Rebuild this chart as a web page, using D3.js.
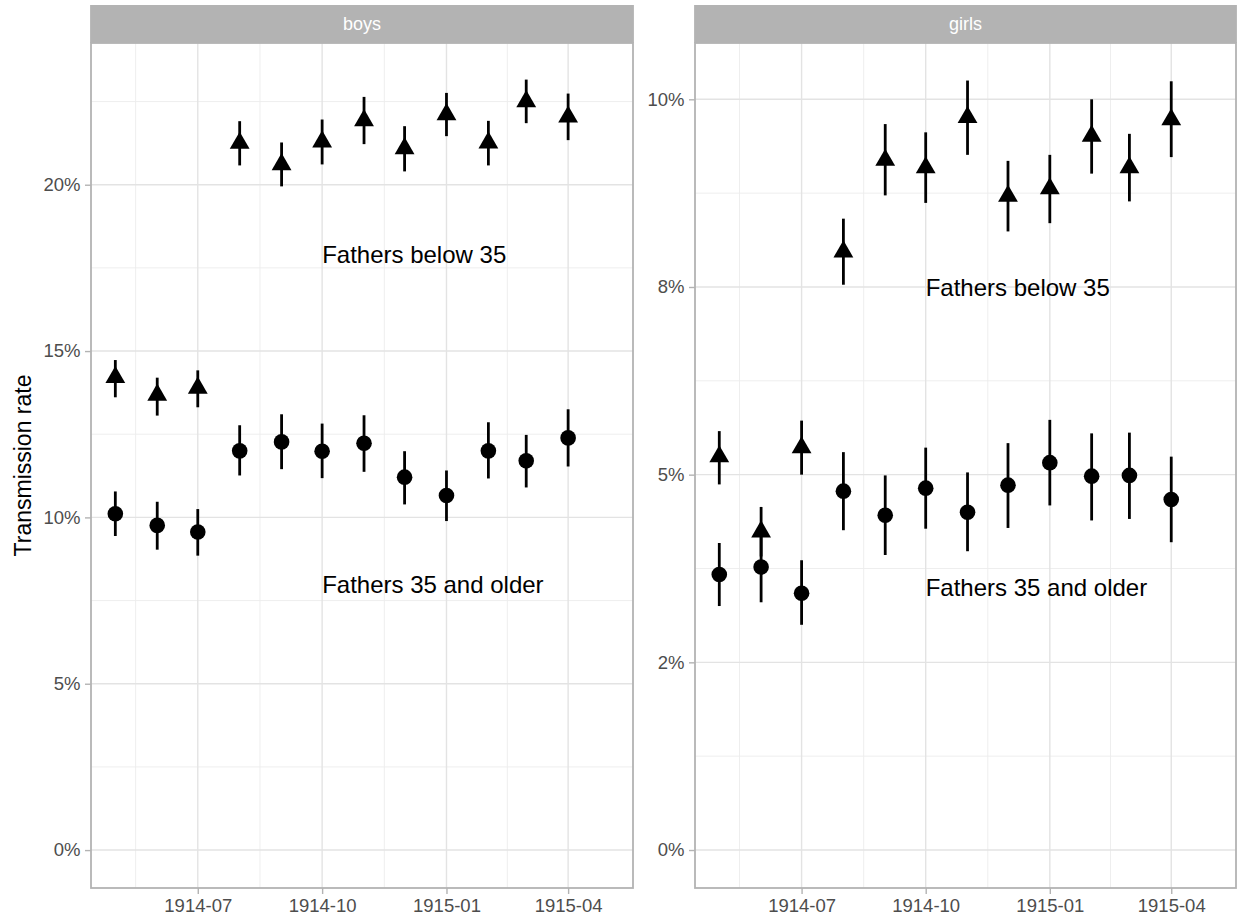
<!DOCTYPE html>
<html>
<head>
<meta charset="utf-8">
<script src="https://cdn.jsdelivr.net/npm/d3@7"></script>
<style>
  html, body { margin: 0; padding: 0; background: #ffffff; }
  svg { display: block; font-family: "Liberation Sans", Arial, sans-serif; }
</style>
</head>
<body>
<svg id="chart" width="1238" height="924"></svg>
<script>
// ---------------- data ----------------
const months = ["1914-05","1914-06","1914-07","1914-08","1914-09","1914-10",
                "1914-11","1914-12","1915-01","1915-02","1915-03","1915-04"];
const facets = ["boys", "girls"];

// boys, fathers below 35 (triangles), percent
const boysYoung   = [14.21, 13.68, 13.89, 21.25, 20.61, 21.29, 21.93, 21.09, 22.11, 21.26, 22.50, 22.04];
const boysYoungLo = [13.61, 13.06, 13.31, 20.58, 19.95, 20.61, 21.22, 20.40, 21.46, 20.58, 21.85, 21.34];
const boysYoungHi = [14.73, 14.20, 14.42, 21.91, 21.27, 21.96, 22.64, 21.76, 22.76, 21.92, 23.16, 22.74];
// boys, fathers 35 and older (circles)
const boysOld   = [10.11, 9.76, 9.56, 12.00, 12.27, 11.99, 12.23, 11.21, 10.66, 12.00, 11.70, 12.39];
const boysOldLo = [9.44, 9.03, 8.85, 11.26, 11.45, 11.18, 11.37, 10.39, 9.89, 11.17, 10.90, 11.53];
const boysOldHi = [10.78, 10.47, 10.25, 12.77, 13.10, 12.82, 13.07, 11.99, 11.41, 12.86, 12.48, 13.25];
// girls, fathers below 35 (triangles)
const girlsYoung   = [5.24, 4.24, 5.36, 7.97, 9.19, 9.09, 9.76, 8.71, 8.81, 9.51, 9.09, 9.73];
const girlsYoungLo = [4.87, 3.91, 5.00, 7.53, 8.72, 8.62, 9.26, 8.24, 8.35, 9.01, 8.64, 9.23];
const girlsYoungHi = [5.58, 4.57, 5.72, 8.41, 9.67, 9.56, 10.25, 9.18, 9.26, 10.00, 9.54, 10.24];
// girls, fathers 35 and older (circles)
const girlsOld   = [3.67, 3.77, 3.42, 4.78, 4.46, 4.82, 4.50, 4.86, 5.16, 4.98, 4.99, 4.67];
const girlsOldLo = [3.25, 3.30, 3.00, 4.26, 3.93, 4.28, 3.98, 4.29, 4.59, 4.39, 4.41, 4.10];
const girlsOldHi = [4.09, 4.24, 3.86, 5.30, 4.99, 5.36, 5.03, 5.42, 5.73, 5.55, 5.56, 5.24];

// axes
const xTickMonths = ["1914-07", "1914-10", "1915-01", "1915-04"];
const xDomainDates = ["1914-04-13", "1915-05-19"];
const boysTicks  = [0, 5, 10, 15, 20];
const boysTickLabels  = ["0%", "5%", "10%", "15%", "20%"];
const girlsTicks = [0, 2.5, 5, 7.5, 10];
const girlsTickLabels = ["0%", "2%", "5%", "8%", "10%"];
const boysYDomain  = [-1.14, 24.26];
const girlsYDomain = [-0.506, 10.75];

// annotations
const annotLabels = ["Fathers below 35", "Fathers 35 and older"];
const annotMonth = "1914-10";
const boysAnnotY  = [17.9, 8.0];
const girlsAnnotY = [7.5, 3.5];

const yTitle = "Transmission rate";

// ---------------- drawing ----------------
const svg = d3.select("#chart");
const parseMonth = d3.utcParse("%Y-%m");
const parseDay = d3.utcParse("%Y-%m-%d");

const panelTop = 43, panelBottom = 888, stripTop = 5;
const layout = {
  boys:  { x0: 91,  x1: 633 },
  girls: { x0: 695, x1: 1236 }
};
const dataByFacet = {
  boys: {
    young: { v: boysYoung, lo: boysYoungLo, hi: boysYoungHi },
    old:   { v: boysOld, lo: boysOldLo, hi: boysOldHi },
    ticks: boysTicks, labels: boysTickLabels, domain: boysYDomain, annot: boysAnnotY
  },
  girls: {
    young: { v: girlsYoung, lo: girlsYoungLo, hi: girlsYoungHi },
    old:   { v: girlsOld, lo: girlsOldLo, hi: girlsOldHi },
    ticks: girlsTicks, labels: girlsTickLabels, domain: girlsYDomain, annot: girlsAnnotY
  }
};

const gridCol = "#e3e3e3", borderCol = "#b3b3b3", tickTextCol = "#4d4d4d";
const triSym = d3.symbol().type(d3.symbolTriangle).size(170);

facets.forEach(f => {
  const L = layout[f], D = dataByFacet[f];
  const x = d3.scaleUtc()
    .domain(xDomainDates.map(parseDay))
    .range([L.x0, L.x1]);
  const y = d3.scaleLinear().domain(D.domain).range([panelBottom, panelTop]);
  const g = svg.append("g");

  // clip
  const clipId = "clip-" + f;
  svg.append("clipPath").attr("id", clipId)
    .append("rect").attr("x", L.x0).attr("y", panelTop)
    .attr("width", L.x1 - L.x0).attr("height", panelBottom - panelTop);
  const pg = g.append("g").attr("clip-path", `url(#${clipId})`);

  // minor grid (midpoints between majors, plus one step before first)
  const xMaj = xTickMonths.map(parseMonth);
  const xMinor = [];
  for (let i = 0; i < xMaj.length - 1; i++) {
    xMinor.push(new Date((xMaj[i].getTime() + xMaj[i + 1].getTime()) / 2));
  }
  const stepMs = xMaj[1].getTime() - xMaj[0].getTime();
  xMinor.unshift(new Date(xMaj[0].getTime() - stepMs / 2));
  pg.selectAll(".xminor").data(xMinor).join("line")
    .attr("x1", d => x(d)).attr("x2", d => x(d))
    .attr("y1", panelTop).attr("y2", panelBottom)
    .attr("stroke", "#ececec").attr("stroke-width", 0.9);

  const ystep = D.ticks[1] - D.ticks[0];
  const yMinor = [];
  for (let i = -1; i < D.ticks.length; i++) {
    const v = (i < 0 ? D.ticks[0] - ystep : D.ticks[i]) + ystep / 2;
    if (v > D.domain[0] && v < D.domain[1]) yMinor.push(v);
  }
  pg.selectAll(".yminor").data(yMinor).join("line")
    .attr("x1", L.x0).attr("x2", L.x1)
    .attr("y1", d => y(d)).attr("y2", d => y(d))
    .attr("stroke", "#ececec").attr("stroke-width", 0.9);

  // major grid
  pg.selectAll(".xmajor").data(xMaj).join("line")
    .attr("x1", d => x(d)).attr("x2", d => x(d))
    .attr("y1", panelTop).attr("y2", panelBottom)
    .attr("stroke", gridCol).attr("stroke-width", 1.4);
  pg.selectAll(".ymajor").data(D.ticks).join("line")
    .attr("x1", L.x0).attr("x2", L.x1)
    .attr("y1", d => y(d)).attr("y2", d => y(d))
    .attr("stroke", gridCol).attr("stroke-width", 1.4);

  // series
  const mk = (s) => months.map((m, i) => ({ d: parseMonth(m), v: s.v[i], lo: s.lo[i], hi: s.hi[i] }));
  const young = mk(D.young), old = mk(D.old);

  [young, old].forEach(series => {
    pg.append("g").selectAll("line").data(series).join("line")
      .attr("x1", d => x(d.d)).attr("x2", d => x(d.d))
      .attr("y1", d => y(d.lo)).attr("y2", d => y(d.hi))
      .attr("stroke", "#000").attr("stroke-width", 2.8);
  });
  pg.append("g").selectAll("path").data(young).join("path")
    .attr("d", triSym)
    .attr("transform", d => `translate(${x(d.d)},${y(d.v)})`)
    .attr("fill", "#000");
  pg.append("g").selectAll("circle").data(old).join("circle")
    .attr("cx", d => x(d.d)).attr("cy", d => y(d.v)).attr("r", 7.8)
    .attr("fill", "#000");

  // annotations
  g.selectAll(".annot").data(annotLabels).join("text")
    .attr("x", x(parseMonth(annotMonth)))
    .attr("y", (d, i) => y(D.annot[i]))
    .attr("dy", "0.36em")
    .attr("font-size", 24).attr("fill", "#000")
    .text(d => d);

  // panel border
  g.append("rect").attr("x", L.x0).attr("y", panelTop)
    .attr("width", L.x1 - L.x0).attr("height", panelBottom - panelTop)
    .attr("fill", "none").attr("stroke", borderCol).attr("stroke-width", 1.8);

  // strip
  g.append("rect").attr("x", L.x0 - 0.9).attr("y", stripTop)
    .attr("width", L.x1 - L.x0 + 1.8).attr("height", panelTop - stripTop)
    .attr("fill", "#b3b3b3");
  g.append("text").attr("x", (L.x0 + L.x1) / 2).attr("y", 29.5)
    .attr("text-anchor", "middle").attr("font-size", 18).attr("fill", "#ffffff")
    .text(f);

  // x axis
  const xAxis = d3.axisBottom(x).tickValues(xMaj)
    .tickFormat(d3.utcFormat("%Y-%m")).tickSize(6).tickPadding(4);
  const xa = g.append("g").attr("transform", `translate(0,${panelBottom})`).call(xAxis);
  xa.select(".domain").remove();
  xa.selectAll(".tick line").attr("stroke", borderCol).attr("stroke-width", 1.4);
  xa.selectAll(".tick text").attr("fill", tickTextCol)
    .attr("font-size", 18.5).attr("font-family", "Liberation Sans, Arial, sans-serif")
    .attr("dy", "0.71em").attr("y", 11);

  // y axis
  const yAxis = d3.axisLeft(y).tickValues(D.ticks)
    .tickFormat((d, i) => D.labels[i]).tickSize(6).tickPadding(4.5);
  const ya = g.append("g").attr("transform", `translate(${L.x0},0)`).call(yAxis);
  ya.select(".domain").remove();
  ya.selectAll(".tick line").attr("stroke", borderCol).attr("stroke-width", 1.4);
  ya.selectAll(".tick text").attr("fill", tickTextCol)
    .attr("font-size", 18.5).attr("font-family", "Liberation Sans, Arial, sans-serif");
});

// y axis title
svg.append("text")
  .attr("transform", `translate(31,${(panelTop + panelBottom) / 2}) rotate(-90)`)
  .attr("text-anchor", "middle").attr("font-size", 23).attr("fill", "#000")
  .text(yTitle);
</script>
</body>
</html>
